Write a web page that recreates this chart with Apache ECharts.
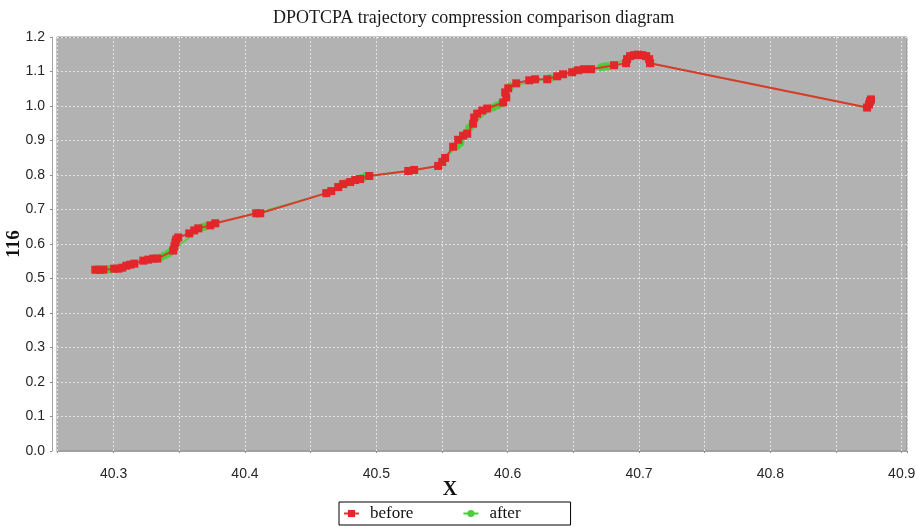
<!DOCTYPE html>
<html>
<head>
<meta charset="utf-8">
<script src="https://cdn.jsdelivr.net/npm/echarts@6/dist/echarts.min.js"></script>
<style>
  html, body { margin: 0; padding: 0; background: #ffffff; }
  #chart { width: 917px; height: 526px; }
</style>
</head>
<body>
<div id="chart"></div>
<script>
// ---- data ----
var titleText = 'DPOTCPA trajectory compression comparison diagram';
var xAxisName = 'X';
var yAxisName = '116';
var seriesNames = ['before', 'after'];

var beforeX = [40.2861, 40.2891, 40.2922, 40.3005, 40.3036, 40.3066, 40.3097, 40.3127, 40.3158,
  40.3226, 40.3264, 40.3302, 40.3333, 40.3454, 40.3462, 40.3470, 40.3477, 40.3492, 40.3576,
  40.3614, 40.3645, 40.3736, 40.3774, 40.4086, 40.4116, 40.4619, 40.4657, 40.4710, 40.4748,
  40.4801, 40.4839, 40.4877, 40.4946, 40.5243, 40.5288, 40.5471, 40.5502, 40.5524, 40.5585,
  40.5623, 40.5661, 40.5692, 40.5737, 40.5745, 40.5768, 40.5806, 40.5844, 40.5966, 40.5989,
  40.5981, 40.6004, 40.6065, 40.6164, 40.6209, 40.6301, 40.6377, 40.6422, 40.6491, 40.6537,
  40.6582, 40.6635, 40.6810, 40.6902, 40.6909, 40.6932, 40.6963, 40.6993, 40.7024, 40.7054,
  40.7077, 40.7084, 40.8736, 40.8751, 40.8758, 40.8766];
var beforeY = [0.5255, 0.5255, 0.5255, 0.5285, 0.5285, 0.5314, 0.5372, 0.5401, 0.5431,
  0.5518, 0.5547, 0.5577, 0.5577, 0.5810, 0.5927, 0.6044, 0.6131, 0.6190, 0.6307,
  0.6394, 0.6453, 0.6540, 0.6599, 0.6891, 0.6891, 0.7474, 0.7533, 0.7650, 0.7737,
  0.7796, 0.7854, 0.7883, 0.7971, 0.8117, 0.8146, 0.8263, 0.8380, 0.8496, 0.8818,
  0.9022, 0.9139, 0.9197, 0.9489, 0.9664, 0.9781, 0.9869, 0.9927, 1.0102, 1.0248,
  1.0394, 1.0511, 1.0657, 1.0745, 1.0774, 1.0774, 1.0861, 1.0920, 1.0978, 1.1036,
  1.1066, 1.1066, 1.1182, 1.1241, 1.1358, 1.1445, 1.1474, 1.1489, 1.1474, 1.1445,
  1.1358, 1.1241, 0.9956, 1.0044, 1.0131, 1.0190];

var afterX = [40.2861, 40.2944, 40.2967, 40.2982, 40.3355, 40.3386, 40.3416, 40.3439, 40.3675,
  40.3698, 40.3774, 40.4086, 40.4619, 40.4741, 40.4763, 40.4893, 40.4923, 40.5288, 40.5471,
  40.5616, 40.5639, 40.5684, 40.5707, 40.5730, 40.5889, 40.5920, 40.5951, 40.6019, 40.6323,
  40.6514, 40.6712, 40.6742, 40.6765, 40.6993, 40.7084, 40.8736, 40.8766];
var afterY = [0.5255, 0.5270, 0.5270, 0.5270, 0.5606, 0.5664, 0.5723, 0.5781, 0.6482,
  0.6511, 0.6599, 0.6891, 0.7474, 0.7737, 0.7766, 0.7912, 0.7971, 0.8146, 0.8263,
  0.8847, 0.8934, 0.9226, 0.9372, 0.9460, 0.9956, 1.0015, 1.0073, 1.0569, 1.0803,
  1.1036, 1.1124, 1.1153, 1.1153, 1.1489, 1.1241, 0.9956, 1.0190];

var xMin = 40.2569, xMax = 40.904, xStep = 0.05;
var yMin = 0, yMax = 1.2, yStep = 0.1;

function zip(a, b) { return a.map(function (v, i) { return [v, b[i]]; }); }

var chart = echarts.init(document.getElementById('chart'), null, { renderer: 'canvas' });
var labelFont = 'Liberation Sans';
var serif = 'Liberation Serif';

chart.setOption({
  animation: false,
  backgroundColor: '#ffffff',
  title: {
    text: titleText,
    left: 268, top: 4,
    textStyle: { fontFamily: serif, fontSize: 18, fontWeight: 'normal', color: '#1a1a1a' }
  },
  grid: {
    left: 57, right: 10, top: 37, bottom: 75,
    outerBoundsMode: 'none', containLabel: false,
    show: true, backgroundColor: '#b2b2b2', borderColor: '#8c8c8c', borderWidth: 1
  },
  legend: {
    left: 339, top: 502,
    data: seriesNames,
    orient: 'horizontal',
    itemWidth: 15, itemHeight: 9, itemGap: 49,
    padding: [3, 50, 3, 4],
    borderColor: '#000', borderWidth: 1, backgroundColor: '#fff',
    textStyle: { fontFamily: serif, fontSize: 17, color: '#111', lineHeight: 15, padding: [0, 0, 0, 6] }
  },
  xAxis: {
    type: 'value', min: xMin, max: xMax, minInterval: xStep, maxInterval: xStep, splitNumber: 13,
    offset: 3,
    name: xAxisName, nameLocation: 'middle', nameGap: 26, nameMoveOverlap: false,
    nameTextStyle: { fontFamily: serif, fontSize: 20, fontWeight: 'bold', color: '#111', padding: [0, 64, 0, 0] },
    axisLine: { show: true, lineStyle: { color: '#a3a3a3', width: 1 } },
    axisTick: { show: true, length: 2, lineStyle: { color: '#8c8c8c' } },
    axisLabel: {
      margin: 13, fontFamily: labelFont, fontSize: 14, color: '#262626',
      formatter: function (v) {
        var t = v * 10;
        return Math.abs(t - Math.round(t)) < 1e-6 ? v.toFixed(1) : '';
      }
    },
    splitLine: { show: true, lineStyle: { color: '#e4e4e4', type: [2, 2], width: 1 } }
  },
  yAxis: {
    type: 'value', min: yMin, max: yMax, interval: yStep,
    offset: 5,
    name: yAxisName, nameLocation: 'middle', nameGap: 28, nameRotate: 90, nameMoveOverlap: false,
    nameTextStyle: { fontFamily: serif, fontSize: 19, fontWeight: 'bold', color: '#111' },
    axisLine: { show: true, lineStyle: { color: '#a3a3a3', width: 1 } },
    axisTick: { show: true, length: 2, lineStyle: { color: '#8c8c8c' } },
    axisLabel: {
      margin: 7, fontFamily: labelFont, fontSize: 14, color: '#262626',
      formatter: function (v) { return v.toFixed(1); }
    },
    splitLine: { show: true, lineStyle: { color: '#e4e4e4', type: [2, 2], width: 1 } }
  },
  series: [
    {
      name: seriesNames[0], type: 'line', z: 3,
      data: zip(beforeX, beforeY),
      symbol: 'rect', symbolSize: 8, showSymbol: true, showAllSymbol: true,
      lineStyle: { color: '#da3a2c', width: 2 },
      itemStyle: { color: '#e3262a' },
      emphasis: { disabled: true }
    },
    {
      name: seriesNames[1], type: 'line', z: 2,
      data: zip(afterX, afterY),
      symbol: 'circle', symbolSize: 8, showSymbol: true, showAllSymbol: true,
      lineStyle: { color: '#4ccd3c', width: 1.5 },
      itemStyle: { color: '#4ccd3c' },
      emphasis: { disabled: true }
    }
  ]
});
</script>
</body>
</html>
